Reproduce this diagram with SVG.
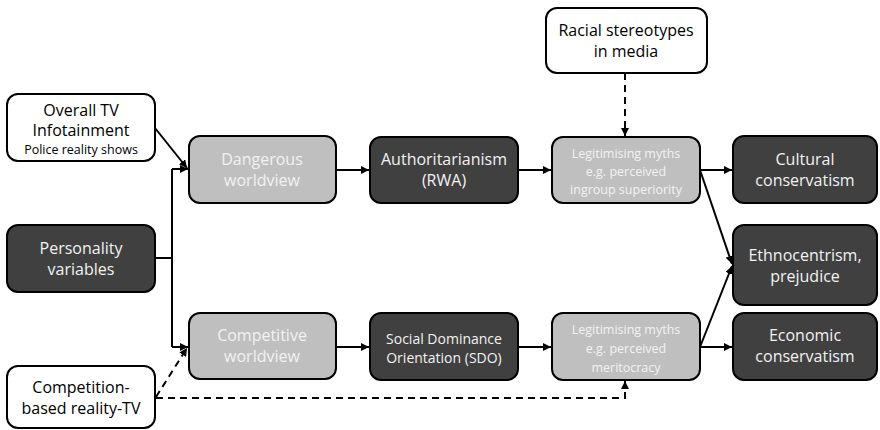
<svg xmlns="http://www.w3.org/2000/svg" width="880" height="430" viewBox="0 0 880 430">
<style>
.box{stroke:#000;stroke-width:2}
.w{fill:#fff}
.d{fill:#404040}
.l{fill:#bfbfbf}
text{font-family:"Open Sans","Liberation Sans",sans-serif;text-anchor:middle}
.tk{fill:#000;font-size:16px}
.td{fill:#f2f2f2;font-size:16px}
.tl{fill:#f2f2f2;font-size:16px}
.ts{font-size:12.5px}
.sm{font-size:12.5px}
.c{fill:none;stroke:#000;stroke-width:2}
.dash{stroke-dasharray:7,5}
</style>
<defs>
<marker id="a" viewBox="0 0 10 10" refX="10" refY="5" markerWidth="4" markerHeight="4" orient="auto" markerUnits="strokeWidth">
<path d="M0,0 L10,5 L0,10 z" fill="#000"/>
</marker>
</defs>
<g id="connectors">
<path class="c" d="M155,128 L187,168" marker-end="url(#a)"/>
<path class="c" d="M155,258 H172 M172,169 V347"/>
<path class="c" d="M172,169 H188" marker-end="url(#a)"/>
<path class="c" d="M172,347 H188" marker-end="url(#a)"/>
<path class="c dash" d="M156,397 L187,348" marker-end="url(#a)"/>
<path class="c dash" d="M156,398 H625 V381" marker-end="url(#a)"/>
<path class="c dash" d="M625,73 V136" marker-end="url(#a)"/>
<path class="c" d="M336,170 H369" marker-end="url(#a)"/>
<path class="c" d="M518,170 H551" marker-end="url(#a)"/>
<path class="c" d="M336,347 H369" marker-end="url(#a)"/>
<path class="c" d="M518,347 H551" marker-end="url(#a)"/>
<path class="c" d="M700,170 H732" marker-end="url(#a)"/>
<path class="c" d="M700,170 L732,264" marker-end="url(#a)"/>
<path class="c" d="M700,347 L732,266" marker-end="url(#a)"/>
<path class="c" d="M700,347 H732" marker-end="url(#a)"/>
</g>
<g id="overall-tv">
<rect class="box w" x="7" y="94" width="148" height="67" rx="11"/>
<text class="tk" x="81" y="116">Overall TV</text>
<text class="tk" x="81" y="136">Infotainment</text>
<text class="tk ts" x="81" y="154">Police reality shows</text>
</g>
<g id="personality">
<rect class="box d" x="7" y="225" width="148" height="67" rx="11"/>
<text class="td" x="81" y="254">Personality</text>
<text class="td" x="81" y="275">variables</text>
</g>
<g id="competition-tv">
<rect class="box w" x="7" y="366" width="148" height="62" rx="11"/>
<text class="tk" x="81" y="393">Competition-</text>
<text class="tk" x="81" y="414">based reality-TV</text>
</g>
<g id="dangerous">
<rect class="box l" x="189" y="136" width="147" height="67" rx="11"/>
<text class="tl" x="262" y="165">Dangerous</text>
<text class="tl" x="262" y="186">worldview</text>
</g>
<g id="competitive">
<rect class="box l" x="189" y="313" width="147" height="66" rx="11"/>
<text class="tl" x="262" y="341">Competitive</text>
<text class="tl" x="262" y="362">worldview</text>
</g>
<g id="rwa">
<rect class="box d" x="370" y="137" width="148" height="66" rx="11"/>
<text class="td" x="444" y="165">Authoritarianism</text>
<text class="td" x="444" y="186">(RWA)</text>
</g>
<g id="sdo">
<rect class="box d" x="370" y="313" width="148" height="67" rx="11"/>
<text class="td" x="444" y="344" style="font-size:14px">Social Dominance</text>
<text class="td" x="444" y="363" style="font-size:14px">Orientation (SDO)</text>
</g>
<g id="racial">
<rect class="box w" x="546" y="8" width="161" height="65" rx="11"/>
<text class="tk" x="626" y="36">Racial stereotypes</text>
<text class="tk" x="626" y="57">in media</text>
</g>
<g id="myths-ingroup">
<rect class="box l" x="552" y="137" width="148" height="66" rx="11"/>
<text class="tl sm" x="626" y="158">Legitimising myths</text>
<text class="tl sm" x="626" y="176">e.g. perceived</text>
<text class="tl sm" x="626" y="194">ingroup superiority</text>
</g>
<g id="myths-meritocracy">
<rect class="box l" x="552" y="313" width="148" height="67" rx="11"/>
<text class="tl sm" x="626" y="334">Legitimising myths</text>
<text class="tl sm" x="626" y="353">e.g. perceived</text>
<text class="tl sm" x="626" y="372">meritocracy</text>
</g>
<g id="cultural">
<rect class="box d" x="733" y="136" width="144" height="67" rx="11"/>
<text class="td" x="805" y="165">Cultural</text>
<text class="td" x="805" y="186">conservatism</text>
</g>
<g id="ethno">
<rect class="box d" x="733" y="225" width="144" height="80" rx="11"/>
<text class="td" x="805" y="261">Ethnocentrism,</text>
<text class="td" x="805" y="282">prejudice</text>
</g>
<g id="economic">
<rect class="box d" x="733" y="313" width="144" height="67" rx="11"/>
<text class="td" x="805" y="341">Economic</text>
<text class="td" x="805" y="362">conservatism</text>
</g>
</svg>
